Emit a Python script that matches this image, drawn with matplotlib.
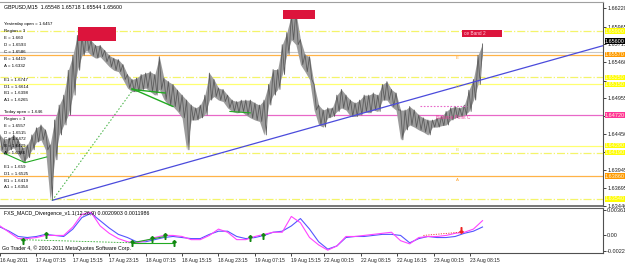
import numpy as np
import matplotlib.pyplot as plt

plt.rcParams['font.family'] = ['Liberation Sans', 'DejaVu Sans']

W, H = 625, 263
PX_PER_BAR = 1.138   # horizontal density of the M15 bars
STEP = 4             # price samples every 4 bars
MSTEP = 8            # macd samples every 8 bars

# GBPUSD M15 price (high / low per sample)
high = [1.6444, 1.6437, 1.6440, 1.6444, 1.6437, 1.6426, 1.6430, 1.6444, 1.6454, 1.6458,
        1.6451, 1.6430, 1.6465, 1.6486, 1.6500, 1.6535, 1.6556, 1.6584, 1.6584, 1.6591,
        1.6577, 1.6570, 1.6570, 1.6563, 1.6556, 1.6552, 1.6550, 1.6543, 1.6529, 1.6522,
        1.6524, 1.6529, 1.6531, 1.6533, 1.6529, 1.6554, 1.6524, 1.6519, 1.6515, 1.6507,
        1.6500, 1.6493, 1.6486, 1.6482, 1.6486, 1.6500, 1.6531, 1.6522, 1.6510, 1.6508,
        1.6500, 1.6493, 1.6491, 1.6493, 1.6493, 1.6493, 1.6489, 1.6486, 1.6493, 1.6515,
        1.6536, 1.6536, 1.6571, 1.6588, 1.6613, 1.6617, 1.6578, 1.6557, 1.6554, 1.6515,
        1.6486, 1.6479, 1.6482, 1.6482, 1.6500, 1.6508, 1.6500, 1.6493, 1.6489, 1.6493,
        1.6500, 1.6500, 1.6503, 1.6500, 1.6515, 1.6519, 1.6508, 1.6503, 1.6479, 1.6479,
        1.6484, 1.6479, 1.6472, 1.6468, 1.6465, 1.6465, 1.6468, 1.6470, 1.6477, 1.6482,
        1.6484, 1.6482, 1.6486, 1.6507, 1.6522, 1.6556, 1.6572]
low = [1.6423, 1.6416, 1.6423, 1.6426, 1.6416, 1.6405, 1.6412, 1.6423, 1.6434, 1.6437,
       1.6423, 1.6353, 1.6409, 1.6444, 1.6458, 1.6472, 1.6500, 1.6535, 1.6556, 1.6563,
       1.6556, 1.6552, 1.6554, 1.6547, 1.6540, 1.6535, 1.6533, 1.6522, 1.6510, 1.6505,
       1.6505, 1.6508, 1.6510, 1.6505, 1.6500, 1.6508, 1.6494, 1.6486, 1.6484, 1.6477,
       1.6468, 1.6423, 1.6465, 1.6465, 1.6468, 1.6472, 1.6493, 1.6498, 1.6493, 1.6491,
       1.6482, 1.6477, 1.6475, 1.6477, 1.6472, 1.6468, 1.6465, 1.6463, 1.6444, 1.6486,
       1.6500, 1.6508, 1.6529, 1.6557, 1.6578, 1.6571, 1.6543, 1.6533, 1.6522, 1.6479,
       1.6458, 1.6455, 1.6468, 1.6470, 1.6477, 1.6482, 1.6479, 1.6470, 1.6470, 1.6472,
       1.6477, 1.6475, 1.6479, 1.6477, 1.6493, 1.6493, 1.6484, 1.6479, 1.6437, 1.6451,
       1.6458, 1.6455, 1.6451, 1.6448, 1.6444, 1.6455, 1.6455, 1.6457, 1.6458, 1.6465,
       1.6468, 1.6470, 1.6472, 1.6477, 1.6493, 1.6515, 1.6556]

# FXS_MACD_Divergence lines
macd_main = [0.00135, 0.00045, -0.00045, -0.00045, -0.0003, 0.0, 0.0, 0.0, 0.0012, 0.003,
             0.0033, 0.00135, 0.0003, -0.00045, -0.0009, -0.00105, -0.00075, -0.0003, 0.0, 0.0,
             -0.00015, -0.0006, -0.0006, 0.0, 0.0009, 0.00045, -0.0006, -0.0006, -0.00015, 0.00015,
             0.00045, 0.00045, 0.0027, 0.0018, -0.0003, -0.00135, -0.0021, -0.0015, -0.00015, -0.00015,
             0.0, 0.00015, 0.0003, 0.00045, -0.00075, -0.0012, -0.0003, -0.00015, -0.00015, 0.0,
             0.0003, 0.00045, 0.0009, 0.0021]
macd_signal = [0.0012, 0.0006, -0.00015, -0.0003, -0.00015, 0.00015, 0.0, -0.00015, 0.0009, 0.00255,
               0.00315, 0.0021, 0.00105, 0.00015, -0.0003, -0.0009, -0.0009, -0.0006, -0.0003, -0.00015,
               -0.0003, -0.00045, -0.00045, 0.00015, 0.0006, 0.0006, -0.00015, -0.00045, -0.0003, 0.0,
               0.00045, 0.0006, 0.00135, 0.0024, 0.0009, -0.0009, -0.00195, -0.0015, -0.0003, -0.00015,
               -0.00015, 0.0, 0.00015, 0.00015, 0.0, -0.00105, -0.00045, -0.00015, -0.0003, -0.0003,
               -0.00015, 0.0003, 0.0006, 0.0012]
up_arrow_bar = [20, 40, 116, 134, 145, 153, 220, 231]
up_arrow_val = [-0.00075, 0.0, -0.00105, -0.00045, -0.00015, -0.00105, -0.0003, -0.00015]

# today's levels
level_val = [1.6590, 1.6557, 1.6525, 1.6515, 1.6472, 1.6429, 1.6419, 1.6386, 1.6354]
level_txt = ['1.65900', '1.65570', '1.65250', '1.65150', '1.64720', '1.64290', '1.64190', '1.63860', '1.63540']
level_col = ['#f4f46a', '#ffb347', '#f4f46a', '#ffff70', '#e868c8', '#ffff70', '#f4f46a', '#ffb347', '#f4f46a']
level_ls = ['-.', '-', '-.', '-', '-', '-', '-.', '-', '-.']
label_bg = ['#ffff00', '#ff9900', '#ffff00', '#ffff00', '#ff3399', '#ffff00', '#ffff00', '#ff9900', '#ffff00']

price_ticks = [1.66220, 1.65965, 1.65715, 1.65460, 1.65205, 1.64955, 1.64700, 1.64450,
               1.64195, 1.63945, 1.63695, 1.63440]
hidden_ticks = [1.65205, 1.64700, 1.64195]   # covered by the level labels
date_bars = [0, 32, 64, 96, 128, 160, 192, 224, 256, 285, 317, 349, 381, 413]
date_labels = ['16 Aug 2011', '17 Aug 07:15', '17 Aug 15:15', '17 Aug 23:15', '18 Aug 07:15',
               '18 Aug 15:15', '18 Aug 23:15', '19 Aug 07:15', '19 Aug 15:15', '22 Aug 00:15',
               '22 Aug 08:15', '22 Aug 16:15', '23 Aug 00:15', '23 Aug 08:15']

yesterday_lines = ['Yesterday open = 1.6457', 'Region = 3', 'E = 1.660', 'D = 1.6593', 'C = 1.6586',
                   'B = 1.6419', 'A = 1.6332', '', 'E1 = 1.6747', 'D1 = 1.6614', 'B1 = 1.6398', 'A1 = 1.6265']
today_lines = ['Today open = 1.646', 'Region = 3', 'E = 1.6557', 'D = 1.6515', 'C = 1.6472',
               'B = 1.6429', 'A = 1.6386', '', 'E1 = 1.659', 'D1 = 1.6525', 'B1 = 1.6419', 'A1 = 1.6354']

fig = plt.figure(figsize=(W / 100, H / 100), dpi=100)
ax = fig.add_axes([0, 1 - 206 / H, 603 / W, 204 / H])
axm = fig.add_axes([0, 1 - 253 / H, 603 / W, 45 / H])

xmax = 603 / PX_PER_BAR
bars = np.arange(len(high)) * STEP

# horizontal levels
ax.axhline(1.6561, color='#c8c8c8', lw=0.8, zorder=1)
for v, c, ls in zip(level_val, level_col, level_ls):
    ax.axhline(v, color=c, lw=0.9, ls=ls, zorder=1)

# price: gray body plus a jagged high/low trace
ax.fill_between(bars, low, high, color='#9c9c9c', lw=0, zorder=2)
zig_x = np.ravel(np.column_stack([bars, bars + STEP / 2]))
zig_y = np.ravel(np.column_stack([high, low]))
ax.plot(zig_x[:-1], zig_y[:-1], color='#5c5c5c', lw=0.6, zorder=2)

# trend line & divergence lines
t_bar = [46, 413]
t_val = [1.6352, 1.6517]
slope = (t_val[1] - t_val[0]) / (t_bar[1] - t_bar[0])
ax.plot([t_bar[0], xmax], [t_val[0], t_val[0] + slope * (xmax - t_bar[0])], color='#4b4bdc', lw=0.9, zorder=3)
ax.plot([46, 118], [1.6352, 1.6510], color='#33aa33', lw=0.7, ls=(0, (1.5, 2)), zorder=3)
ax.plot([116, 152], [1.6509, 1.6484], color='#22aa22', lw=1.0, zorder=3)
ax.plot([116, 145], [1.6508, 1.6503], color='#22aa22', lw=1.0, zorder=3)
ax.plot([4, 22, 41], [1.6418, 1.6405, 1.6413], color='#22aa22', lw=0.8, zorder=3)
ax.plot([202, 220], [1.6477, 1.6475], color='#22aa22', lw=0.8, zorder=3)
ax.plot([369, 410], [1.6484, 1.6484], color='#e868c8', lw=0.8, ls=(0, (1.5, 1.5)), zorder=3)

# red zones
for x0, x1, y0, y1 in [(68.5, 102, 1.6576, 1.6596), (249, 277, 1.6607, 1.6620), (406, 441, 1.6582, 1.6592)]:
    ax.fill_between([x0, x1], y0, y1, color='#dc143c', lw=0, zorder=4)
ax.text(408, 1.6587, 'ce Band 2', fontsize=3.4, color='#ffd0e0', va='center', zorder=5)
ax.text(383, 1.6468, 'Balance Point C', fontsize=3.4, color='#e8409c', va='center', zorder=5)
for lab, v, c in [('E', 1.6552, '#ffa530'), ('D', 1.6512, '#e8e040'), ('B', 1.6423, '#e8e040'), ('A', 1.6381, '#ffa530')]:
    ax.text(402, v, lab, fontsize=3.2, color=c, va='center', ha='center', zorder=5)

ax.set_xlim(0, xmax)
ax.set_ylim(1.6344, 1.6631)
ax.set_xticks([])
ax.yaxis.tick_right()
ax.set_yticks(price_ticks)
ax.set_yticklabels(['' if t in hidden_ticks else '%.5f' % t for t in price_ticks])
ax.tick_params(axis='y', labelsize=4, length=2, width=0.6, pad=1, colors='#222222')

# value labels on the price scale
for v, t, bg in zip(level_val, level_txt, label_bg):
    ax.text(1.003, v, t, transform=ax.get_yaxis_transform(), fontsize=4, color='#fff8d8',
            va='center', ha='left', clip_on=False, zorder=6,
            bbox=dict(boxstyle='square,pad=0.05', fc=bg, ec='none'))
ax.text(1.003, 1.6576, '1.65600', transform=ax.get_yaxis_transform(), fontsize=4, color='white',
        va='center', ha='left', clip_on=False, zorder=7,
        bbox=dict(boxstyle='square,pad=0.05', fc='black', ec='none'))

ax.spines['left'].set_visible(False)
ax.spines['top'].set_color('#a0a0a0')
ax.spines['right'].set_color('#505050')
ax.spines['bottom'].set_color('#606060')
ax.spines['bottom'].set_linewidth(1.2)

ax.text(0.006, 0.975, 'GBPUSD,M15  1.65548 1.65718 1.65544 1.65600', transform=ax.transAxes,
        fontsize=3.8, va='center', ha='left')
for i, s in enumerate(yesterday_lines):
    fig.text(4 / W, 1 - (24 + 6.95 * i) / H, s, fontsize=3.2, va='center')
for i, s in enumerate(today_lines):
    fig.text(4 / W, 1 - (112 + 6.85 * i) / H, s, fontsize=3.2, va='center')

# MACD panel
mb = np.arange(len(macd_main)) * MSTEP
axm.plot(mb, macd_signal, color='#5555ff', lw=0.8)
axm.plot(mb, macd_main, color='#ff44ff', lw=0.8)
axm.plot([18, 116], [-0.0006, -0.00105], color='#33aa33', lw=0.6, ls=(0, (2, 1.5)))
axm.plot([116, 153], [-0.00105, -0.00105], color='#22aa22', lw=0.8)
axm.plot([116, 145], [-0.00105, -0.00015], color='#22aa22', lw=0.8)
axm.plot([372, 404], [0.0, 0.00045], color='#ee3333', lw=0.6, ls=(0, (1.5, 1.5)))
axm.plot(up_arrow_bar, up_arrow_val, ls='none', marker='$\u2191$', ms=4, color='#118811')
axm.plot([405], [0.0008], ls='none', marker='$\u2193$', ms=4, color='#ee2222')

axm.set_xlim(0, xmax)
axm.set_ylim(-0.0025, 0.0039)
axm.yaxis.tick_right()
axm.set_yticks([0.00361, 0.0, -0.00221])
axm.set_yticklabels(['0.003612', '0.00', '-0.002212'])
axm.tick_params(axis='y', labelsize=4, length=2, width=0.6, pad=1, colors='#222222')
axm.set_xticks(date_bars)
axm.set_xticklabels(date_labels, ha='left')
axm.tick_params(axis='x', labelsize=3.6, length=2, width=0.6, pad=1.5, colors='#222222')
axm.spines['left'].set_visible(False)
axm.spines['top'].set_color('#606060')
axm.spines['right'].set_color('#505050')
axm.spines['bottom'].set_color('#505050')
axm.text(0.006, 0.88, 'FXS_MACD_Divergence_v1.1(12,26,9) 0.0020903 0.0011986', transform=axm.transAxes,
         fontsize=3.8, va='center')
axm.text(0.004, 0.1, 'Go Trader 4, \u00a9 2001-2011 MetaQuotes Software Corp.', transform=axm.transAxes,
         fontsize=3.8, va='center')

fig.savefig('out.png', dpi=100)
